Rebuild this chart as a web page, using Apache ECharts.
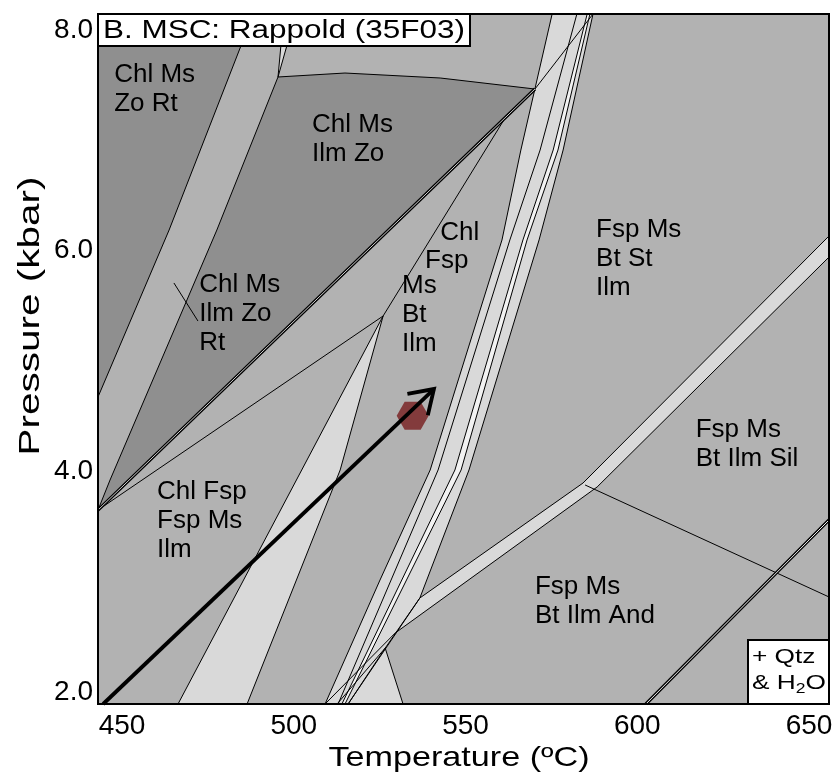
<!DOCTYPE html>
<html>
<head>
<meta charset="utf-8">
<script src="https://cdn.jsdelivr.net/npm/echarts@6/dist/echarts.min.js"></script>
<style>
html, body { margin: 0; padding: 0; background: #fff; }
#chart { width: 838px; height: 780px; }
</style>
</head>
<body>
<div id="chart"></div>
<script>
// axis ranges and ticks (temperature in ºC, pressure in kbar)
const tempRange = [443.0, 655.8]
const presRange = [1.891, 8.145]
const tempTicks = [450, 500, 550, 600, 650]
const presTicks = [2, 4, 6, 8]

// dark fields
const chlMsZoRt = [[443.0, 8.145], [488.1, 8.145], [484.6, 7.855], [463.7, 6.187], [443.0, 4.674]]
const chlMsIlmZo = [[443.0, 3.649], [446.5, 3.921], [477.6, 6.187], [495.4, 7.574], [514.9, 7.610], [542.6, 7.565], [570.2, 7.465]]

// reaction lines
const lineZoRt = [[488.1, 8.145], [484.6, 7.855], [463.7, 6.187], [443.0, 4.674]]
const line2 = [[443.0, 3.649], [446.5, 3.921], [477.6, 6.187], [495.4, 7.574], [497.1, 8.145]]
const line2b = [[495.4, 7.574], [500.6, 8.145]]
const zoCurve = [[495.4, 7.574], [514.9, 7.610], [542.6, 7.565], [570.2, 7.465]]
const doubleLine = [[570.2, 7.465], [443.0, 3.649]]
const qToTop = [[570.2, 7.465], [587.1, 8.145]]
const fanLine = [[443.0, 3.649], [526.0, 5.408], [561.5, 7.202]]
const wedgeLeft = [[526.0, 5.408], [466.3, 1.891]]
const wedgeRight = [[526.0, 5.408], [513.5, 4.012], [486.4, 1.891]]
const lineA = [[575.2, 8.145], [566.1, 6.912], [560.6, 6.097], [539.7, 4.012], [525.1, 3.015], [509.1, 1.891]]
const lineB = [[582.4, 8.145], [571.7, 6.912], [562.9, 6.097], [542.0, 4.012], [512.9, 1.891]]
const lineC = [[585.4, 8.145], [575.5, 6.912], [566.7, 6.097], [546.9, 4.012], [514.0, 1.891]]
const lineC2 = [[586.2, 8.145], [576.9, 6.912], [567.9, 6.097], [548.7, 4.012], [514.9, 1.891]]
const lineD = [[587.1, 8.145], [578.4, 6.912], [571.4, 6.097], [551.0, 4.012], [536.7, 2.852], [515.8, 1.891]]
const andUpper = [[536.7, 2.852], [584.2, 3.894], [655.8, 6.133]]
const andLower = [[529.5, 2.534], [588.3, 3.858], [655.8, 5.942]]
const andSil = [[584.8, 3.876], [655.8, 2.861]]
const ext1 = [[536.7, 2.852], [526.6, 2.398], [512.6, 1.891]]
const ext2 = [[529.5, 2.534], [509.1, 1.891]]
const baseTri = [[526.6, 2.398], [531.8, 1.891], [515.8, 1.891]]
const topSliver = [[495.4, 7.574], [497.1, 8.145], [500.6, 8.145]]
const wedge = [[526.0, 5.408], [513.5, 4.012], [486.4, 1.891], [466.3, 1.891]]
const brDouble = [[602.5, 1.891], [655.8, 3.559]]
const leader = [[465.1, 5.707], [472.1, 5.362]]

// P-T path and sample
const pathStart = [444.5, 1.891]
const pathEnd = [540.8, 4.746]
const sample = [534.6, 4.504]

// field labels: [T, P, text]
const fieldLabels = [
  [447.7, 7.728, 'Chl Ms\nZo Rt'],
  [505.3, 7.275, 'Chl Ms\nIlm Zo'],
  [472.5, 5.825, 'Chl Ms\nIlm Zo\nRt'],
  [542.6, 6.296, 'Chl'],
  [538.2, 6.042, 'Fsp'],
  [531.5, 5.816, 'Ms\nBt\nIlm'],
  [588.0, 6.323, 'Fsp Ms\nBt St\nIlm'],
  [617.0, 4.510, 'Fsp Ms\nBt Ilm Sil'],
  [460.2, 3.948, 'Chl Fsp\nFsp Ms\nIlm'],
  [570.2, 3.087, 'Fsp Ms\nBt Ilm And']
]

const DARK = '#8f8f8f', MID = '#b2b2b2', LIGHT = '#d9d9d9', PALE = '#f2f2f2'
const FONT = '"Liberation Sans", Arial, sans-serif'

function fillSeries(pts, color, z) {
  return {
    type: 'custom', silent: true, clip: true, z: z || 1,
    data: [pts[0]],
    renderItem: (params, api) => ({
      type: 'polygon',
      shape: { points: pts.map(p => api.coord(p)) },
      style: { fill: color, stroke: 'none' }
    })
  }
}
function lineSeries(pts, width, color, z) {
  return {
    type: 'line', data: pts, symbol: 'none', silent: true, clip: true,
    z: z || 3,
    lineStyle: { color: color || '#000', width: width || 1 }
  }
}

const longBand = lineA.concat(lineD.slice().reverse())
const paleStrip = lineC.concat(lineC2.slice().reverse())
const andBand = andUpper.concat(andLower.slice().reverse())

var chartDom = document.getElementById('chart')
var myChart = echarts.init(chartDom)

var series = [
  fillSeries(chlMsZoRt, DARK),
  fillSeries(chlMsIlmZo, DARK),
  fillSeries(topSliver, LIGHT),
  fillSeries(wedge, LIGHT),
  fillSeries(longBand, LIGHT),
  fillSeries(paleStrip, PALE),
  fillSeries(andBand, LIGHT),
  fillSeries(baseTri, LIGHT)
]
;[lineZoRt, line2, line2b, zoCurve, qToTop, fanLine, wedgeLeft, wedgeRight,
  lineA, lineB, lineC, lineC2, lineD, andUpper, andLower, andSil, ext1, ext2,
  baseTri.concat([baseTri[0]]), leader].forEach(l => series.push(lineSeries(l)))
// double lines: black with a pale core
series.push(lineSeries(doubleLine, 3.2, '#000', 4))
series.push(lineSeries(doubleLine, 1, '#cfcfcf', 5))
series.push(lineSeries(brDouble, 3.2, '#000', 4))
series.push(lineSeries(brDouble, 1, '#f2f2f2', 5))

// sample hexagon
series.push({
  type: 'custom', silent: true, z: 8, data: [sample],
  renderItem: (params, api) => {
    const c = api.coord(sample)
    const rx = 16, ry = 14
    const pts = [[c[0] - rx, c[1]], [c[0] - rx / 2, c[1] - ry], [c[0] + rx / 2, c[1] - ry],
      [c[0] + rx, c[1]], [c[0] + rx / 2, c[1] + ry], [c[0] - rx / 2, c[1] + ry]]
    return { type: 'polygon', shape: { points: pts }, style: { fill: '#833b3c', stroke: 'none' } }
  }
})
// P-T path arrow
series.push({
  type: 'custom', silent: true, z: 9, clip: false, data: [pathStart],
  renderItem: (params, api) => {
    const a = api.coord(pathStart), b = api.coord(pathEnd)
    const ang = Math.atan2(a[1] - b[1], a[0] - b[0])
    const len = 27, spread = 0.58
    const w1 = [b[0] + len * Math.cos(ang - spread), b[1] + len * Math.sin(ang - spread)]
    const w2 = [b[0] + len * Math.cos(ang + spread), b[1] + len * Math.sin(ang + spread)]
    const st = { stroke: '#000', lineWidth: 3.8, fill: 'none', lineCap: 'butt', lineJoin: 'miter' }
    return {
      type: 'group', children: [
        { type: 'line', shape: { x1: a[0], y1: a[1], x2: b[0], y2: b[1] }, style: st },
        { type: 'polyline', shape: { points: [w1, b, w2] }, style: st }
      ]
    }
  }
})
// field labels
series.push({
  type: 'custom', silent: true, z: 10, clip: false,
  data: fieldLabels.map(d => [d[0], d[1]]),
  renderItem: (params, api) => {
    const d = fieldLabels[params.dataIndex]
    const p = api.coord([d[0], d[1]])
    return {
      type: 'text', x: p[0], y: p[1],
      style: { text: d[2], fill: '#000', font: '26px ' + FONT, lineHeight: 29, align: 'left', verticalAlign: 'top' }
    }
  }
})
// plot frame
series.push({
  type: 'custom', silent: true, z: 20, clip: false, data: [[tempRange[0], presRange[1]]],
  renderItem: (params, api) => {
    const p0 = api.coord([tempRange[0], presRange[1]])
    const p1 = api.coord([tempRange[1], presRange[0]])
    return {
      type: 'rect', shape: { x: p0[0], y: p0[1], width: p1[0] - p0[0], height: p1[1] - p0[1] },
      style: { fill: 'none', stroke: '#000', lineWidth: 2 }
    }
  }
})

var option = {
  animation: false,
  grid: { left: 98, right: 9, top: 14, bottom: 76, show: true, backgroundColor: MID, borderWidth: 0 },
  xAxis: {
    type: 'value', min: tempRange[0], max: tempRange[1],
    axisLine: { show: false }, axisTick: { show: false }, splitLine: { show: false },
    axisLabel: {
      customValues: tempTicks, margin: 8,
      color: '#000', fontSize: 28, fontFamily: FONT
    }
  },
  yAxis: {
    type: 'value', min: presRange[0], max: presRange[1],
    axisLine: { show: false }, axisTick: { show: false }, splitLine: { show: false },
    axisLabel: {
      customValues: presTicks, margin: 5,
      color: '#000', fontSize: 28, fontFamily: FONT,
      formatter: v => v.toFixed(1)
    }
  },
  graphic: [
    {
      type: 'rect', z: 100, shape: { x: 98, y: 14, width: 372, height: 32 },
      style: { fill: '#fff', stroke: '#000', lineWidth: 2 }
    },
    {
      type: 'text', z: 101, x: 103, y: 31, scaleX: 1.21,
      style: { text: 'B. MSC: Rappold (35F03)', font: '26px ' + FONT, fill: '#000', verticalAlign: 'middle' }
    },
    {
      type: 'rect', z: 100, shape: { x: 748, y: 640, width: 81, height: 64 },
      style: { fill: '#fff', stroke: '#000', lineWidth: 2 }
    },
    {
      type: 'text', z: 101, x: 752, y: 644, scaleX: 1.25,
      style: {
        text: '+ Qtz\n& H{sub|2}O', font: '21px ' + FONT, fill: '#000', lineHeight: 26,
        rich: { sub: { fontSize: 14, fontFamily: FONT, verticalAlign: 'bottom', padding: [10, 0, 0, 0] } }
      }
    },
    {
      type: 'text', z: 101, x: 459, y: 758, scaleX: 1.22,
      style: { text: 'Temperature (ºC)', font: '28px ' + FONT, fill: '#000', align: 'center', verticalAlign: 'middle' }
    },
    {
      type: 'text', z: 101, x: 31, y: 316, rotation: Math.PI / 2, scaleX: 1.35,
      style: { text: 'Pressure (kbar)', font: '30px ' + FONT, fill: '#000', align: 'center', verticalAlign: 'middle' }
    }
  ],
  series: series
}
myChart.setOption(option)
</script>
</body>
</html>
